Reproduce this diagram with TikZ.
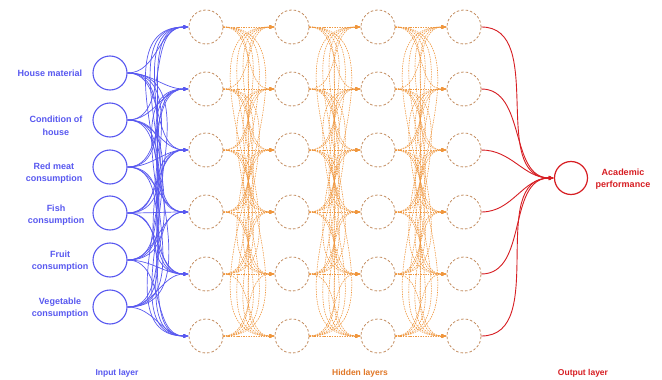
\documentclass[tikz,border=0pt]{standalone}
\usepackage{fontspec}
\setmainfont{Liberation Sans}
\usetikzlibrary{arrows.meta}
\definecolor{inblue}{RGB}{88,88,240}
\definecolor{hidorange}{RGB}{240,150,60}
\definecolor{hidcirc}{RGB}{195,140,95}
\definecolor{hidtext}{RGB}{225,120,40}
\definecolor{outred}{RGB}{215,30,35}
\tikzset{
  inneuron/.style={circle,draw=inblue,line width=1.1pt,minimum size=34pt,inner sep=0pt},
  hidneuron/.style={circle,draw=hidcirc,line width=0.8pt,dash pattern=on 2.5pt off 2pt,minimum size=34pt,inner sep=0pt},
  outneuron/.style={circle,draw=outred,line width=1.2pt,minimum size=33pt,inner sep=0pt},
  inedge/.style={draw=inblue,line width=0.7pt,-{Latex[length=5pt,width=4pt]}},
  hidedge/.style={draw=hidorange,line width=0.55pt,dash pattern=on 1.5pt off 1pt,-{Latex[length=5pt,width=4pt]}},
  outedge/.style={draw=outred,line width=0.9pt,-{Latex[length=5pt,width=4.5pt]}},
  inlabel/.style={text=inblue,font=\fontsize{9}{12.5}\selectfont\bfseries,align=center,inner sep=0pt},
  outlabel/.style={text=outred,font=\fontsize{9}{12.5}\selectfont\bfseries,align=center,inner sep=0pt},
  layerlabel/.style={font=\fontsize{8.5}{10}\selectfont\bfseries,inner sep=0pt}
}
\begin{document}
\begin{tikzpicture}[x=1pt,y=-1pt]
\useasboundingbox (0,0) rectangle (662,380);
\fill[white] (0,0) rectangle (662,380);
% input neurons
\foreach \i/\yy in {1/73,2/120,3/167,4/213,5/260,6/307}{
  \node[inneuron] (I\i) at (110,\yy) {};
}
% hidden neurons
\foreach \l/\xx in {1/206,2/292,3/378,4/464}{
  \foreach \j/\yy in {1/27,2/89,3/150,4/212,5/274,6/336}{
    \node[hidneuron] (H\l-\j) at (\xx,\yy) {};
  }
}
% output neuron
\node[outneuron] (O) at (571,178) {};
% edges input -> hidden 1
\foreach \i in {1,...,6}{
  \foreach \j in {1,...,6}{
    \draw[inedge] (I\i.east) to[out=0,in=180] (H1-\j.west);
  }
}
% hidden -> hidden
\foreach \l/\m in {1/2,2/3,3/4}{
  \foreach \j in {1,...,6}{
    \foreach \k in {1,...,6}{
      \draw[hidedge] (H\l-\j.east) to[out=0,in=180] (H\m-\k.west);
    }
  }
}
% hidden 4 -> output
\foreach \j in {1,...,6}{
  \draw[outedge] (H4-\j.east) to[out=0,in=180] (O.west);
}
% labels
\node[inlabel] (L1) at (50,73) {House material};
\node[inlabel] (L2) at (56,126) {Condition of\\house};
\node[inlabel] (L3) at (54,173) {Red meat\\consumption};
\node[inlabel] (L4) at (56,215) {Fish\\consumption};
\node[inlabel] (L5) at (60,261) {Fruit\\consumption};
\node[inlabel] (L6) at (60,308) {Vegetable\\consumption};
\node[outlabel] (LO) at (623,179) {Academic\\performance};
\node[layerlabel,text=inblue] (LI) at (117,373) {Input layer};
\node[layerlabel,text=hidtext] (LH) at (360,373) {Hidden layers};
\node[layerlabel,text=outred] (LOut) at (583,373) {Output layer};
\end{tikzpicture}
\end{document}
